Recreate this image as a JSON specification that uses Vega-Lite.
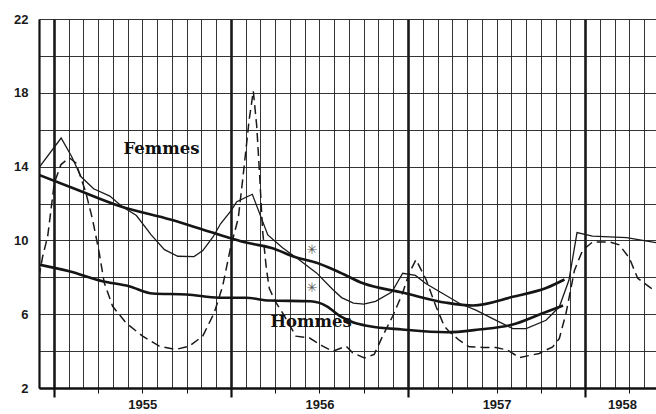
{
  "$schema": "https://vega.github.io/schema/vega-lite/v6.json",
  "width": 617,
  "height": 369,
  "autosize": "none",
  "padding": {"left": 39, "top": 19, "right": 0, "bottom": 26},
  "background": "white",
  "config": {"view": {"stroke": null}},
  "datasets": {
    "courbes": [
      {"serie": "Femmes tendance", "mois": -1, "taux": 13.55},
      {"serie": "Femmes tendance", "mois": 1.5, "taux": 12.77},
      {"serie": "Femmes tendance", "mois": 4.5, "taux": 11.85},
      {"serie": "Femmes tendance", "mois": 7.9, "taux": 11.13},
      {"serie": "Femmes tendance", "mois": 10.8, "taux": 10.41},
      {"serie": "Femmes tendance", "mois": 13.1, "taux": 9.87},
      {"serie": "Femmes tendance", "mois": 14.7, "taux": 9.6},
      {"serie": "Femmes tendance", "mois": 16.5, "taux": 9.06},
      {"serie": "Femmes tendance", "mois": 17.8, "taux": 8.79},
      {"serie": "Femmes tendance", "mois": 19.2, "taux": 8.33},
      {"serie": "Femmes tendance", "mois": 21, "taux": 7.66},
      {"serie": "Femmes tendance", "mois": 23.7, "taux": 7.16},
      {"serie": "Femmes tendance", "mois": 26.6, "taux": 6.62},
      {"serie": "Femmes tendance", "mois": 28.4, "taux": 6.47},
      {"serie": "Femmes tendance", "mois": 31.1, "taux": 6.94},
      {"serie": "Femmes tendance", "mois": 33.4, "taux": 7.43},
      {"serie": "Femmes tendance", "mois": 34.6, "taux": 7.88},

      {"serie": "Hommes tendance", "mois": -1, "taux": 8.69},
      {"serie": "Hommes tendance", "mois": 1.05, "taux": 8.33},
      {"serie": "Hommes tendance", "mois": 3.3, "taux": 7.79},
      {"serie": "Hommes tendance", "mois": 5.1, "taux": 7.52},
      {"serie": "Hommes tendance", "mois": 6.7, "taux": 7.12},
      {"serie": "Hommes tendance", "mois": 9, "taux": 7.07},
      {"serie": "Hommes tendance", "mois": 11.2, "taux": 6.89},
      {"serie": "Hommes tendance", "mois": 13, "taux": 6.89},
      {"serie": "Hommes tendance", "mois": 14.6, "taux": 6.74},
      {"serie": "Hommes tendance", "mois": 17.4, "taux": 6.7},
      {"serie": "Hommes tendance", "mois": 18.5, "taux": 6.43},
      {"serie": "Hommes tendance", "mois": 19.4, "taux": 5.89},
      {"serie": "Hommes tendance", "mois": 20.3, "taux": 5.55},
      {"serie": "Hommes tendance", "mois": 21.4, "taux": 5.35},
      {"serie": "Hommes tendance", "mois": 23.6, "taux": 5.17},
      {"serie": "Hommes tendance", "mois": 26.6, "taux": 5.02},
      {"serie": "Hommes tendance", "mois": 28.8, "taux": 5.17},
      {"serie": "Hommes tendance", "mois": 31.1, "taux": 5.44},
      {"serie": "Hommes tendance", "mois": 32.9, "taux": 5.98},
      {"serie": "Hommes tendance", "mois": 34.5, "taux": 6.47},

      {"serie": "Femmes mensuel", "mois": -1, "taux": 13.95},
      {"serie": "Femmes mensuel", "mois": 0.5, "taux": 15.55},
      {"serie": "Femmes mensuel", "mois": 1.2, "taux": 14.56},
      {"serie": "Femmes mensuel", "mois": 1.85, "taux": 13.45},
      {"serie": "Femmes mensuel", "mois": 2.7, "taux": 12.8},
      {"serie": "Femmes mensuel", "mois": 3.8, "taux": 12.4},
      {"serie": "Femmes mensuel", "mois": 4.6, "taux": 11.85},
      {"serie": "Femmes mensuel", "mois": 5.6, "taux": 11.35},
      {"serie": "Femmes mensuel", "mois": 6.6, "taux": 10.3},
      {"serie": "Femmes mensuel", "mois": 7.5, "taux": 9.5},
      {"serie": "Femmes mensuel", "mois": 8.4, "taux": 9.14},
      {"serie": "Femmes mensuel", "mois": 9.5, "taux": 9.12},
      {"serie": "Femmes mensuel", "mois": 10.1, "taux": 9.45},
      {"serie": "Femmes mensuel", "mois": 10.8, "taux": 10.2},
      {"serie": "Femmes mensuel", "mois": 11.3, "taux": 10.9},
      {"serie": "Femmes mensuel", "mois": 12, "taux": 11.6},
      {"serie": "Femmes mensuel", "mois": 12.4, "taux": 12.1},
      {"serie": "Femmes mensuel", "mois": 13.45, "taux": 12.5},
      {"serie": "Femmes mensuel", "mois": 14.5, "taux": 10.3},
      {"serie": "Femmes mensuel", "mois": 15.5, "taux": 9.6},
      {"serie": "Femmes mensuel", "mois": 16.6, "taux": 8.96},
      {"serie": "Femmes mensuel", "mois": 17.8, "taux": 8.24},
      {"serie": "Femmes mensuel", "mois": 18.9, "taux": 7.34},
      {"serie": "Femmes mensuel", "mois": 19.5, "taux": 6.9},
      {"serie": "Femmes mensuel", "mois": 20.3, "taux": 6.6},
      {"serie": "Femmes mensuel", "mois": 21, "taux": 6.55},
      {"serie": "Femmes mensuel", "mois": 21.8, "taux": 6.7},
      {"serie": "Femmes mensuel", "mois": 22.9, "taux": 7.2},
      {"serie": "Femmes mensuel", "mois": 23.64, "taux": 8.22},
      {"serie": "Femmes mensuel", "mois": 24.5, "taux": 8.1},
      {"serie": "Femmes mensuel", "mois": 25.2, "taux": 7.66},
      {"serie": "Femmes mensuel", "mois": 26.35, "taux": 7.12},
      {"serie": "Femmes mensuel", "mois": 27.5, "taux": 6.58},
      {"serie": "Femmes mensuel", "mois": 28.6, "taux": 6.22},
      {"serie": "Femmes mensuel", "mois": 29.7, "taux": 5.77},
      {"serie": "Femmes mensuel", "mois": 31.1, "taux": 5.22},
      {"serie": "Femmes mensuel", "mois": 32, "taux": 5.22},
      {"serie": "Femmes mensuel", "mois": 33.35, "taux": 5.67},
      {"serie": "Femmes mensuel", "mois": 34.25, "taux": 6.4},
      {"serie": "Femmes mensuel", "mois": 34.9, "taux": 7.84},
      {"serie": "Femmes mensuel", "mois": 35.45, "taux": 10.42},
      {"serie": "Femmes mensuel", "mois": 36.5, "taux": 10.23},
      {"serie": "Femmes mensuel", "mois": 38.8, "taux": 10.15},
      {"serie": "Femmes mensuel", "mois": 40.5, "taux": 9.92},
      {"serie": "Femmes mensuel", "mois": 40.8, "taux": 9.88},

      {"serie": "Hommes mensuel", "mois": -1, "taux": 8.0},
      {"serie": "Hommes mensuel", "mois": -0.75, "taux": 9.14},
      {"serie": "Hommes mensuel", "mois": -0.41, "taux": 10.23},
      {"serie": "Hommes mensuel", "mois": 0.04, "taux": 13.12},
      {"serie": "Hommes mensuel", "mois": 0.49, "taux": 14.11},
      {"serie": "Hommes mensuel", "mois": 1.05, "taux": 14.48},
      {"serie": "Hommes mensuel", "mois": 1.5, "taux": 14.2},
      {"serie": "Hommes mensuel", "mois": 2.18, "taux": 12.58},
      {"serie": "Hommes mensuel", "mois": 2.63, "taux": 11.13},
      {"serie": "Hommes mensuel", "mois": 3.08, "taux": 9.33},
      {"serie": "Hommes mensuel", "mois": 3.42, "taux": 7.7},
      {"serie": "Hommes mensuel", "mois": 3.99, "taux": 6.43},
      {"serie": "Hommes mensuel", "mois": 4.89, "taux": 5.53},
      {"serie": "Hommes mensuel", "mois": 6.02, "taux": 4.81},
      {"serie": "Hommes mensuel", "mois": 7.15, "taux": 4.27},
      {"serie": "Hommes mensuel", "mois": 8.28, "taux": 4.09},
      {"serie": "Hommes mensuel", "mois": 9.18, "taux": 4.27},
      {"serie": "Hommes mensuel", "mois": 10.09, "taux": 4.81},
      {"serie": "Hommes mensuel", "mois": 10.87, "taux": 6.07},
      {"serie": "Hommes mensuel", "mois": 11.44, "taux": 7.52},
      {"serie": "Hommes mensuel", "mois": 12, "taux": 9.69},
      {"serie": "Hommes mensuel", "mois": 12.5, "taux": 11.2},
      {"serie": "Hommes mensuel", "mois": 12.85, "taux": 13.66},
      {"serie": "Hommes mensuel", "mois": 13.24, "taux": 16.55},
      {"serie": "Hommes mensuel", "mois": 13.52, "taux": 18.09},
      {"serie": "Hommes mensuel", "mois": 13.75, "taux": 16.2},
      {"serie": "Hommes mensuel", "mois": 13.95, "taux": 13.5},
      {"serie": "Hommes mensuel", "mois": 14.15, "taux": 10.5},
      {"serie": "Hommes mensuel", "mois": 14.4, "taux": 8.5},
      {"serie": "Hommes mensuel", "mois": 14.6, "taux": 7.4},
      {"serie": "Hommes mensuel", "mois": 15, "taux": 6.7},
      {"serie": "Hommes mensuel", "mois": 15.5, "taux": 6.07},
      {"serie": "Hommes mensuel", "mois": 16.41, "taux": 4.81},
      {"serie": "Hommes mensuel", "mois": 17.31, "taux": 4.72},
      {"serie": "Hommes mensuel", "mois": 18.22, "taux": 4.27},
      {"serie": "Hommes mensuel", "mois": 18.9, "taux": 3.99},
      {"serie": "Hommes mensuel", "mois": 19.8, "taux": 4.27},
      {"serie": "Hommes mensuel", "mois": 20.25, "taux": 3.91},
      {"serie": "Hommes mensuel", "mois": 21.04, "taux": 3.63},
      {"serie": "Hommes mensuel", "mois": 21.71, "taux": 3.82},
      {"serie": "Hommes mensuel", "mois": 22.28, "taux": 4.81},
      {"serie": "Hommes mensuel", "mois": 22.96, "taux": 5.89},
      {"serie": "Hommes mensuel", "mois": 23.64, "taux": 7.16},
      {"serie": "Hommes mensuel", "mois": 24.09, "taux": 8.24},
      {"serie": "Hommes mensuel", "mois": 24.54, "taux": 8.96},
      {"serie": "Hommes mensuel", "mois": 25.22, "taux": 7.88},
      {"serie": "Hommes mensuel", "mois": 25.89, "taux": 6.43},
      {"serie": "Hommes mensuel", "mois": 26.46, "taux": 5.35},
      {"serie": "Hommes mensuel", "mois": 26.8, "taux": 5.05},
      {"serie": "Hommes mensuel", "mois": 27.47, "taux": 4.59},
      {"serie": "Hommes mensuel", "mois": 28.15, "taux": 4.23},
      {"serie": "Hommes mensuel", "mois": 29.06, "taux": 4.2},
      {"serie": "Hommes mensuel", "mois": 29.96, "taux": 4.2},
      {"serie": "Hommes mensuel", "mois": 30.75, "taux": 4.05},
      {"serie": "Hommes mensuel", "mois": 31.54, "taux": 3.65},
      {"serie": "Hommes mensuel", "mois": 32.89, "taux": 3.87},
      {"serie": "Hommes mensuel", "mois": 33.8, "taux": 4.23},
      {"serie": "Hommes mensuel", "mois": 34.25, "taux": 4.68},
      {"serie": "Hommes mensuel", "mois": 34.7, "taux": 6.04},
      {"serie": "Hommes mensuel", "mois": 35.28, "taux": 8.39},
      {"serie": "Hommes mensuel", "mois": 35.83, "taux": 9.47},
      {"serie": "Hommes mensuel", "mois": 36.51, "taux": 9.92},
      {"serie": "Hommes mensuel", "mois": 37.64, "taux": 9.92},
      {"serie": "Hommes mensuel", "mois": 38.31, "taux": 9.76},
      {"serie": "Hommes mensuel", "mois": 38.99, "taux": 9.05},
      {"serie": "Hommes mensuel", "mois": 39.56, "taux": 7.95},
      {"serie": "Hommes mensuel", "mois": 40.46, "taux": 7.41},
      {"serie": "Hommes mensuel", "mois": 40.8, "taux": 7.3}
    ],
    "textes": [
      {"type": "libelle", "texte": "Femmes", "mois": 7.3, "taux": 14.7},
      {"type": "libelle", "texte": "Hommes", "mois": 17.43, "taux": 5.33},
      {"type": "asterisque", "texte": "✳", "mois": 17.5, "taux": 9.5},
      {"type": "asterisque", "texte": "✳", "mois": 17.5, "taux": 7.43}
    ]
  },
  "encoding": {
    "x": {
      "field": "mois",
      "type": "quantitative",
      "scale": {"domain": [-1, 40.8], "nice": false, "zero": false},
      "axis": {
        "title": null,
        "values": [-1,0,1,2,3,4,5,6,7,8,9,10,11,12,13,14,15,16,17,18,19,20,21,22,23,24,25,26,27,28,29,30,31,32,33,34,35,36,37,38,39,40,38.5],
        "grid": true,
        "gridColor": {"condition": {"test": "datum.value % 12 === 0", "value": "#000000"}, "value": "#1e1e1e"},
        "gridWidth": {"condition": {"test": "datum.value % 12 === 0", "value": 2.6}, "value": 1},
        "gridOpacity": {"condition": {"test": "datum.value % 1 !== 0", "value": 0}, "value": 0.9},
        "ticks": true,
        "tickColor": "#111",
        "tickSize": {"condition": {"test": "datum.value % 12 === 0", "value": 9}, "value": 5},
        "tickWidth": {"condition": {"test": "datum.value % 12 === 0", "value": 2.2}, "value": 1},
        "tickOpacity": {"condition": {"test": "datum.value % 3 === 0", "value": 1}, "value": 0},
        "labelExpr": "datum.value === 6 ? '1955' : datum.value === 18 ? '1956' : datum.value === 30 ? '1957' : datum.value === 38.5 ? '1958' : ''",
        "labelFont": "Liberation Sans",
        "labelFontWeight": "bold",
        "labelFontSize": 13,
        "labelColor": "#1a1a1a",
        "labelPadding": 5,
        "labelFlush": false,
        "labelOverlap": false,
        "labelBound": false,
        "domainColor": "#111",
        "domainWidth": 2.5
      }
    },
    "y": {
      "field": "taux",
      "type": "quantitative",
      "scale": {"domain": [2, 22], "nice": false, "zero": false},
      "axis": {
        "title": null,
        "values": [2,4,6,8,10,12,14,16,18,20,22],
        "grid": true,
        "gridColor": "#1e1e1e",
        "gridWidth": 1,
        "gridOpacity": 0.9,
        "ticks": false,
        "labelExpr": "(datum.value - 2) % 4 === 0 ? datum.label : ''",
        "labelFont": "Liberation Sans",
        "labelFontWeight": "bold",
        "labelFontSize": 13,
        "labelColor": "#1a1a1a",
        "labelPadding": 11,
        "labelOverlap": false,
        "labelFlush": false,
        "domainColor": "#111",
        "domainWidth": 2.2
      }
    }
  },
  "layer": [
    {
      "data": {"name": "courbes"},
      "transform": [{"filter": "datum.serie === 'Femmes tendance' || datum.serie === 'Hommes tendance'"}],
      "mark": {"type": "line", "interpolate": "monotone", "color": "#151515", "strokeWidth": 2.6, "clip": true},
      "encoding": {"detail": {"field": "serie"}}
    },
    {
      "data": {"name": "courbes"},
      "transform": [{"filter": "datum.serie === 'Femmes mensuel'"}],
      "mark": {"type": "line", "color": "#1a1a1a", "strokeWidth": 1.3, "clip": true},
      "encoding": {}
    },
    {
      "data": {"name": "courbes"},
      "transform": [{"filter": "datum.serie === 'Hommes mensuel'"}],
      "mark": {"type": "line", "color": "#1a1a1a", "strokeWidth": 1.5, "strokeDash": [9, 5], "clip": true},
      "encoding": {}
    },
    {
      "data": {"name": "textes"},
      "transform": [{"filter": "datum.type === 'libelle'"}],
      "mark": {"type": "text", "font": "DejaVu Serif", "fontWeight": "bold", "fontSize": 16.5, "align": "center", "baseline": "alphabetic", "color": "#111"},
      "encoding": {"text": {"field": "texte"}}
    },
    {
      "data": {"name": "textes"},
      "transform": [{"filter": "datum.type === 'asterisque'"}],
      "mark": {"type": "text", "font": "DejaVu Sans", "fontSize": 13, "align": "center", "baseline": "middle", "color": "#555"},
      "encoding": {"text": {"field": "texte"}}
    }
  ]
}
